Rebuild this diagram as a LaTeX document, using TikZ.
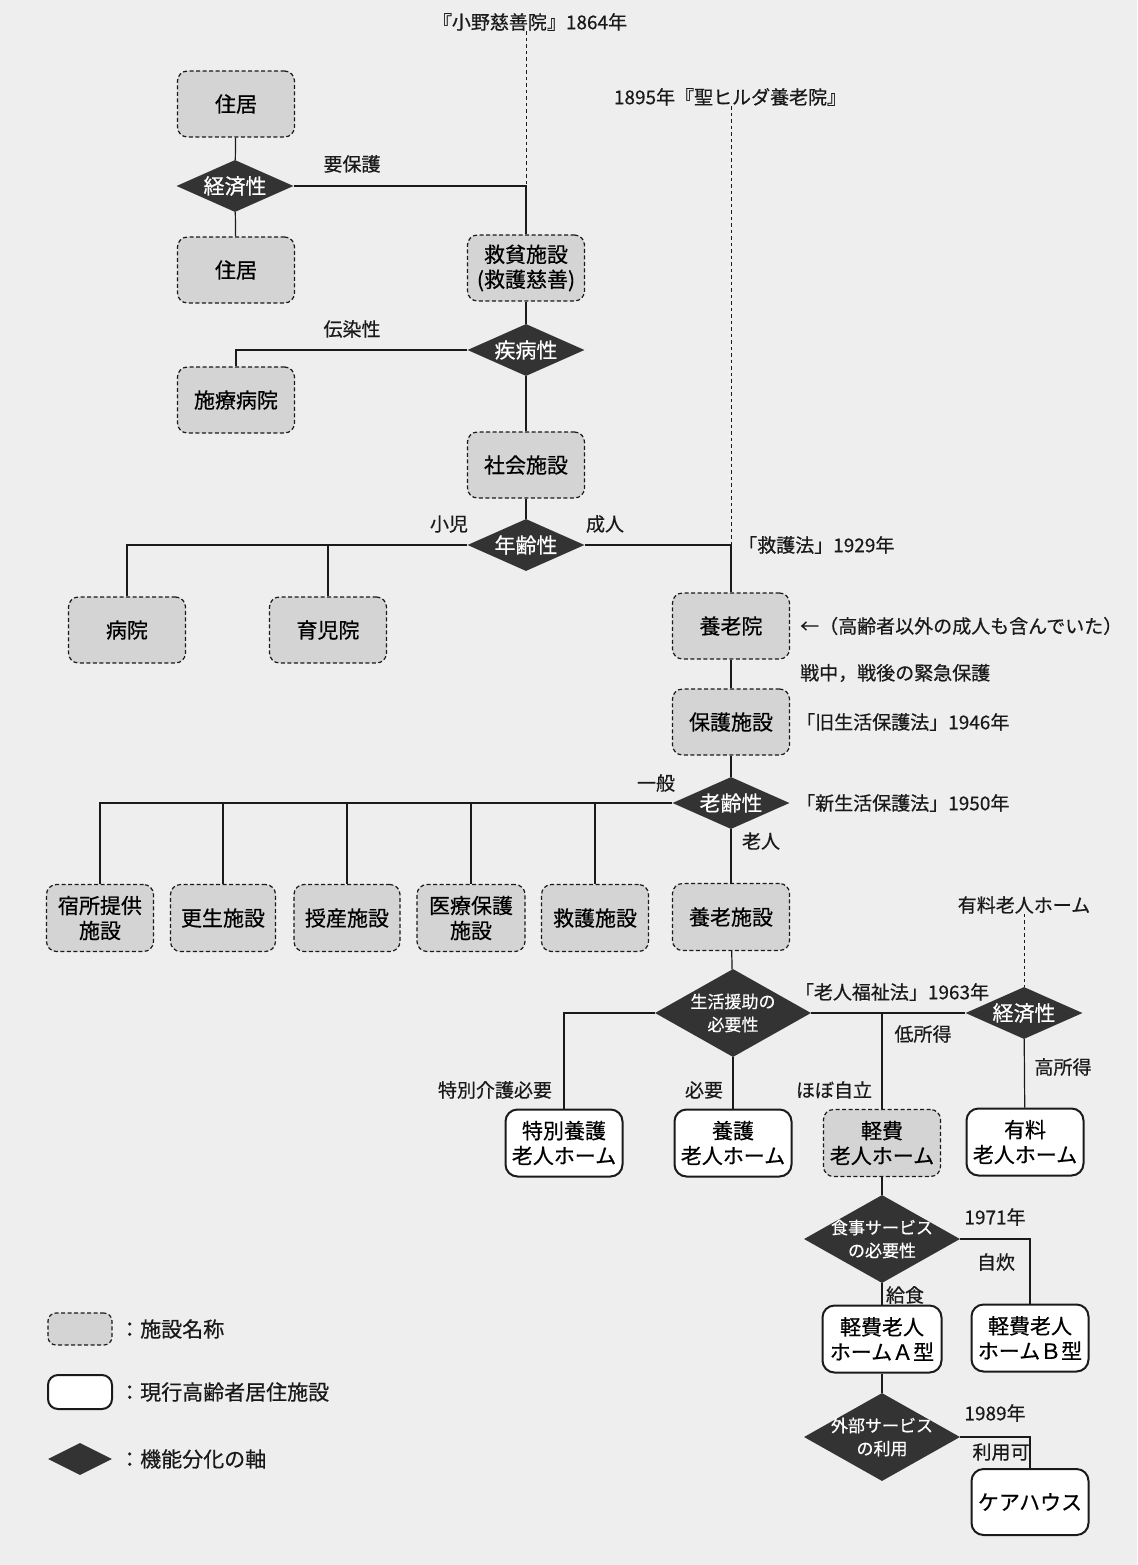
\documentclass[tikz,border=0pt]{standalone}
\usepackage{fontspec}
\setmainfont{Noto Sans CJK JP}[FakeBold=0.5]
\usetikzlibrary{shapes.geometric}
\definecolor{bg}{HTML}{EEEEEE}
\definecolor{boxgray}{HTML}{D4D4D4}
\definecolor{axisfill}{HTML}{333333}
\definecolor{ink}{HTML}{1A1A1A}
\tikzset{
 facility/.style={draw=ink, line width=1.2pt, dash pattern=on 4pt off 2.5pt, fill=boxgray, rounded corners=10pt, minimum width=117pt, minimum height=66pt, inner sep=0pt, align=center, font=\fontsize{21}{25}\selectfont},
 current/.style={draw=ink, line width=2pt, fill=white, rounded corners=12pt, minimum width=117pt, minimum height=67pt, inner sep=0pt, align=center, font=\fontsize{21}{25}\selectfont},
 axis/.style={diamond, draw=none, fill=axisfill, inner sep=0pt, minimum width=117pt, minimum height=52pt},
 bigaxis/.style={axis, minimum width=156pt, minimum height=88pt},
 axislabel/.style={text=white, align=center, inner sep=0pt, font=\fontsize{21}{25}\selectfont},
 axislabelsmall/.style={text=white, align=center, inner sep=0pt, font=\fontsize{17}{23}\selectfont},
 note/.style={inner sep=0pt, font=\fontsize{19}{23}\selectfont, text=ink},
 legendtext/.style={inner sep=0pt, anchor=west, font=\fontsize{21}{25}\selectfont, text=ink},
 conn/.style={draw=ink, line width=1.2pt},
 dashconn/.style={draw=ink, line width=1pt, dash pattern=on 3.5pt off 3pt},
}
\begin{document}
\begin{tikzpicture}[x=1pt,y=-1pt]
\path[fill=bg] (0,0) rectangle (1137,1565);
% --- nodes ---
\node[note] (ono) at (530,22) {『小野慈善院』1864年};
\node[facility] (jukyo1) at (236,104) {住居};
\node[axis] (kz1) at (235,186) {};
\node[axislabel] (kz1t) at (kz1) {経済性};
\node[facility] (jukyo2) at (236,270) {住居};
\node[facility] (kyuhin) at (526,268) {救貧施設\\(救護慈善)};
\node[note] (youhogo) at (352,164) {要保護};
\node[axis] (shippei) at (526,350) {};
\node[axislabel] (shippeit) at (shippei) {疾病性};
\node[note] (densen) at (352,329) {伝染性};
\node[facility] (seryou) at (236,400) {施療病院};
\node[facility] (shakai) at (526,465) {社会施設};
\node[axis] (nenrei) at (526,545) {};
\node[axislabel] (nenreit) at (nenrei) {年齢性};
\node[note] (shouni) at (449,524) {小児};
\node[note] (seijin) at (605,524) {成人};
\node[facility] (byouin) at (127,630) {病院};
\node[facility] (ikuji) at (328,630) {育児院};
\node[note] (hilda) at (730,97) {1895年『聖ヒルダ養老院』};
\node[note, anchor=west] (kyugohou) at (738,545) {「救護法」1929年};
\node[facility] (yourouin) at (731,626) {養老院};
\node[note, anchor=west] (fukumu) at (800,626) {←（高齢者以外の成人も含んでいた）};
\node[note, anchor=west] (senchu) at (800,673) {戦中，戦後の緊急保護};
\node[facility] (hogo) at (731,722) {保護施設};
\node[note, anchor=west] (kyuseikatsu) at (796,722) {「旧生活保護法」1946年};
\node[axis] (rourei) at (731,803) {};
\node[axislabel] (roureit) at (rourei) {老齢性};
\node[note] (ippan) at (656,783) {一般};
\node[note, anchor=west] (shinseikatsu) at (796,803) {「新生活保護法」1950年};
\node[note] (roujin) at (761,841) {老人};
\node[facility, minimum width=107pt, minimum height=67pt] (shukusho) at (100,918) {宿所提供\\施設};
\node[facility, minimum width=105pt, minimum height=67pt] (kousei) at (223,918) {更生施設};
\node[facility, minimum width=106pt, minimum height=67pt] (jusan) at (347,918) {授産施設};
\node[facility, minimum width=108pt, minimum height=67pt] (iryou) at (471,918) {医療保護\\施設};
\node[facility, minimum width=107pt, minimum height=67pt] (kyugo) at (595,918) {救護施設};
\node[facility, minimum height=67pt] (yourou) at (731,917) {養老施設};
\node[note] (yuryolabel) at (1024,905) {有料老人ホーム};
\node[bigaxis] (seikatsu) at (733,1013) {};
\node[axislabelsmall] (seikatsut) at (seikatsu) {生活援助の\\必要性};
\node[note] (roujinfukushi) at (892,992) {「老人福祉法」1963年};
\node[axis] (kz2) at (1024,1013) {};
\node[axislabel] (kz2t) at (kz2) {経済性};
\node[note] (teishotoku) at (923,1034) {低所得};
\node[note] (koushotoku) at (1063,1067) {高所得};
\node[note] (tokubetsulbl) at (495,1090) {特別介護必要};
\node[note] (hitsuyou) at (704,1090) {必要};
\node[note] (hobojiritsu) at (834,1090) {ほぼ自立};
\node[current] (tokuyou) at (564,1143) {特別養護\\老人ホーム};
\node[current] (yougo) at (733,1143) {養護\\老人ホーム};
\node[facility, minimum height=67pt] (keihi) at (882,1143) {軽費\\老人ホーム};
\node[current] (yuryo) at (1025,1142) {有料\\老人ホーム};
\node[bigaxis] (shokuji) at (882,1239) {};
\node[axislabelsmall] (shokujit) at (shokuji) {食事サービス\\の必要性};
\node[note] (y1971) at (995,1217) {1971年};
\node[note] (jisui) at (996,1262) {自炊};
\node[note] (kyushoku) at (905,1295) {給食};
\node[current, minimum width=119pt] (keihia) at (882,1339) {軽費老人\\ホームＡ型};
\node[current] (keihib) at (1030,1338) {軽費老人\\ホームＢ型};
\node[bigaxis] (gaibu) at (882,1437) {};
\node[axislabelsmall] (gaibut) at (gaibu) {外部サービス\\の利用};
\node[note] (y1989) at (995,1413) {1989年};
\node[note] (riyouka) at (1001,1452) {利用可};
\node[current, minimum height=66pt] (carehouse) at (1030,1502) {ケアハウス};
% legend
\node[facility, minimum width=64pt, minimum height=32pt, rounded corners=8pt] (lg1) at (80,1329) {};
\node[legendtext] (lg1t) at (119,1329) {：施設名称};
\node[current, minimum width=64pt, minimum height=34pt, rounded corners=10pt] (lg2) at (80,1392) {};
\node[legendtext] (lg2t) at (119,1392) {：現行高齢者居住施設};
\node[axis, minimum width=64pt, minimum height=32pt] (lg3) at (80,1459) {};
\node[legendtext] (lg3t) at (119,1459) {：機能分化の軸};
% --- connectors ---
\draw[conn] (jukyo1) -- (kz1);
\draw[conn] (kz1) -- (jukyo2);
\draw[conn] (kz1.east) -| (kyuhin.north);
\draw[dashconn] (kyuhin.north |- ono.south) -- (kyuhin.north |- kz1.east);
\draw[conn] (kyuhin) -- (shippei);
\draw[conn] (shippei.west) -| (seryou.north);
\draw[conn] (shippei) -- (shakai);
\draw[conn] (shakai) -- (nenrei);
\draw[conn] (nenrei.west) -| (byouin.north);
\draw[conn] (ikuji.north) -- (ikuji.north |- nenrei.west);
\draw[conn] (nenrei.east) -| (yourouin.north);
\draw[dashconn] (yourouin.north |- hilda.south) -- (yourouin.north |- nenrei.east);
\draw[conn] (yourouin) -- (hogo);
\draw[conn] (hogo) -- (rourei);
\draw[conn] (rourei.west) -| (shukusho.north);
\draw[conn] (kousei.north) -- (kousei.north |- rourei.west);
\draw[conn] (jusan.north) -- (jusan.north |- rourei.west);
\draw[conn] (iryou.north) -- (iryou.north |- rourei.west);
\draw[conn] (kyugo.north) -- (kyugo.north |- rourei.west);
\draw[conn] (rourei) -- (yourou);
\draw[conn] (yourou) -- (seikatsu);
\draw[conn] (seikatsu.west) -| (tokuyou.north);
\draw[conn] (seikatsu) -- (yougo);
\draw[conn] (seikatsu.east) -- (kz2.west);
\draw[conn] (keihi.north) -- (keihi.north |- seikatsu.east);
\draw[conn] (kz2) -- (yuryo);
\draw[dashconn] (yuryolabel.south) -- (kz2.north);
\draw[conn] (keihi) -- (shokuji);
\draw[conn] (shokuji.east) -| (keihib.north);
\draw[conn] (shokuji) -- (keihia);
\draw[conn] (keihia) -- (gaibu);
\draw[conn] (gaibu.east) -| (carehouse.north);
\end{tikzpicture}
\end{document}
